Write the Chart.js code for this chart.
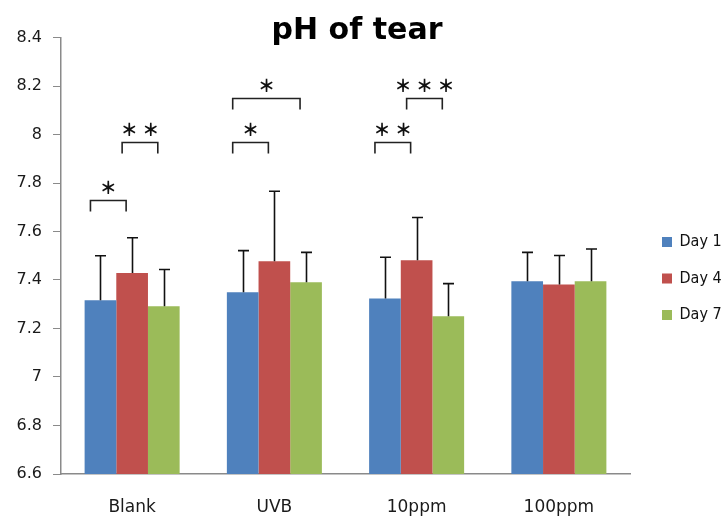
<!DOCTYPE html>
<html>
<head>
<meta charset="utf-8">
<script src="https://cdn.jsdelivr.net/npm/chart.js@4.4.1/dist/chart.umd.min.js"></script>
<style>
  html, body { margin: 0; padding: 0; background: #ffffff; }
  #wrap { width: 727px; height: 522px; position: relative; }
</style>
</head>
<body>
<div id="wrap"><canvas id="chart" width="727" height="522"></canvas></div>
<script>
// Treatment groups along the x axis
const categories = ['Blank', 'UVB', '10ppm', '100ppm'];

// Mean tear pH per day
const seriesNames = ['Day 1', 'Day 4', 'Day 7'];
const day1 = [7.316, 7.350, 7.324, 7.395];
const day4 = [7.429, 7.477, 7.481, 7.381];
const day7 = [7.292, 7.391, 7.251, 7.395];

// Upper error (standard deviation) per day
const day1Err = [0.184, 0.171, 0.170, 0.119];
const day4Err = [0.145, 0.289, 0.177, 0.120];
const day7Err = [0.151, 0.123, 0.134, 0.133];

// Significance brackets: group index, day pair, height on the pH scale, stars
const sigGroup = [0, 0, 1, 1, 2, 2];
const sigFrom  = [0, 1, 0, 0, 0, 1];
const sigTo    = [1, 2, 1, 2, 1, 2];
const sigLevel = [7.73, 7.97, 7.97, 8.15, 7.97, 8.15];
const sigStars = [1, 2, 1, 1, 2, 3];

// Y axis range
const yMin = 6.6, yMax = 8.4, yStep = 0.2;

const colors = ['#4F81BD', '#C0504D', '#9BBB59'];
const values = [day1, day4, day7];
const errors = [day1Err, day4Err, day7Err];

const errorBars = {
  id: 'errorBars',
  afterDatasetsDraw(chart) {
    const ctx = chart.ctx;
    const y = chart.scales.y;
    ctx.save();
    ctx.strokeStyle = '#111111';
    ctx.lineWidth = 1.6;
    chart.data.datasets.forEach((ds, di) => {
      const meta = chart.getDatasetMeta(di);
      meta.data.forEach((bar, i) => {
        const top = y.getPixelForValue(ds.data[i] + errors[di][i]);
        const bx = Math.round(bar.x) + 0.5;
        ctx.beginPath();
        ctx.moveTo(bx, bar.y);
        ctx.lineTo(bx, top);
        ctx.moveTo(bx - 5.5, top);
        ctx.lineTo(bx + 5.5, top);
        ctx.stroke();
      });
    });
    ctx.restore();
  }
};

const sigBrackets = {
  id: 'sigBrackets',
  afterDatasetsDraw(chart) {
    const ctx = chart.ctx;
    const y = chart.scales.y;
    ctx.save();
    ctx.strokeStyle = '#222222';
    ctx.lineWidth = 1.6;
    ctx.fillStyle = '#111111';
    ctx.font = '900 17px "Noto Sans CJK KR"';
    ctx.textAlign = 'center';
    ctx.textBaseline = 'middle';
    sigGroup.forEach((g, k) => {
      const a = chart.getDatasetMeta(sigFrom[k]).data[g];
      const b = chart.getDatasetMeta(sigTo[k]).data[g];
      const x1 = a.x - 10, x2 = b.x - 6;
      const yy = Math.round(y.getPixelForValue(sigLevel[k])) + 0.5;
      ctx.beginPath();
      ctx.moveTo(x1, yy + 11);
      ctx.lineTo(x1, yy);
      ctx.lineTo(x2, yy);
      ctx.lineTo(x2, yy + 11);
      ctx.stroke();
      const n = sigStars[k];
      const cx = (x1 + x2) / 2;
      const gap = 21.5;
      for (let s = 0; s < n; s++) {
        ctx.fillText('＊', cx + (s - (n - 1) / 2) * gap, yy - 13);
      }
    });
    ctx.restore();
  }
};

const titleAndLegend = {
  id: 'titleAndLegend',
  afterDraw(chart) {
    const ctx = chart.ctx;
    ctx.save();
    ctx.fillStyle = '#000000';
    ctx.font = 'bold 30px "DejaVu Sans"';
    ctx.textAlign = 'center';
    ctx.textBaseline = 'alphabetic';
    ctx.fillText('pH of tear', 357, 38.5);

    ctx.font = '16px "DejaVu Sans Condensed", "DejaVu Sans"';
    ctx.textAlign = 'left';
    ctx.textBaseline = 'middle';
    seriesNames.forEach((name, i) => {
      const cy = 242 + i * 36.5;
      ctx.fillStyle = colors[i];
      ctx.fillRect(662, cy - 5, 10, 10);
      ctx.fillStyle = '#111111';
      ctx.fillText(name, 679.5, cy);
    });
    ctx.restore();
  }
};

new Chart(document.getElementById('chart'), {
  type: 'bar',
  data: {
    labels: categories,
    datasets: seriesNames.map((name, i) => ({
      label: name,
      data: values[i],
      backgroundColor: colors[i],
      borderWidth: 0,
      categoryPercentage: 0.668,
      barPercentage: 1.0
    }))
  },
  options: {
    responsive: false,
    animation: false,
    devicePixelRatio: 1,
    layout: { padding: { top: 37.5, right: 97, bottom: 0, left: 0 } },
    plugins: {
      legend: { display: false },
      title: { display: false },
      tooltip: { enabled: false }
    },
    scales: {
      x: {
        grid: { display: false, drawTicks: false },
        border: { display: true, color: '#8a8a8a', width: 1.5 },
        ticks: {
          color: '#1a1a1a',
          padding: 23,
          font: { family: 'DejaVu Sans', size: 17 },
          maxRotation: 0
        },
        afterFit(scale) { scale.height = 48; }
      },
      y: {
        min: yMin,
        max: yMax,
        grid: {
          drawOnChartArea: false,
          drawTicks: true,
          tickLength: 8,
          color: '#8a8a8a'
        },
        border: { display: true, color: '#8a8a8a', width: 1.5 },
        ticks: {
          stepSize: yStep,
          color: '#1a1a1a',
          padding: 11,
          font: { family: 'DejaVu Sans', size: 16 },
          callback: (v) => String(Number(v.toFixed(1)))
        },
        afterFit(scale) { scale.width = 61; }
      }
    }
  },
  plugins: [errorBars, sigBrackets, titleAndLegend]
});
</script>
</body>
</html>
